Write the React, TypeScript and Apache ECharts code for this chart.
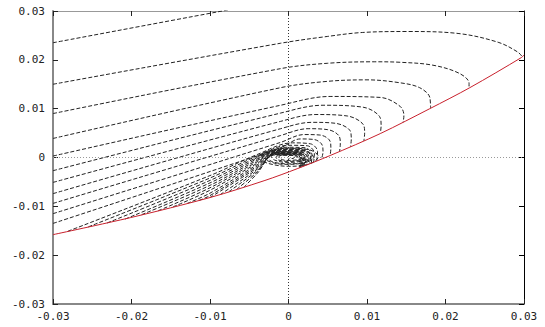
import React, { useEffect, useRef } from "react";
import * as echarts from "echarts";

// Axis ticks
const xTicks = [-0.03, -0.02, -0.01, 0, 0.01, 0.02, 0.03];
const yTicks = [-0.03, -0.02, -0.01, 0, 0.01, 0.02, 0.03];

// Red boundary curve
const redCurve = [[-0.03,-0.0158],[-0.0201,-0.0123],[-0.0100,-0.0082],[-0.0030,-0.0047],[0.0011,-0.0023],[0.0053,0.0004],[0.0117,0.0049],[0.0180,0.0100],[0.0231,0.0143],[0.0297,0.0205],[0.0300,0.0210]];

// Trajectories starting at the left edge
const c1 = [[-0.03,0.0235],[-0.0091,0.0298],[-0.004,0.0313]];
const c2 = [[-0.03,0.0150],[-0.001,0.0234],[0.005,0.0248],[0.0094,0.0256],[0.0152,0.0258],[0.0216,0.0254],[0.0267,0.0236],[0.0292,0.0216],[0.0298,0.0206]];
const c3 = [[-0.03,0.0090],[-0.001,0.0182],[0.005,0.0193],[0.011,0.0196],[0.0142,0.0195],[0.0184,0.0189],[0.0218,0.0172],[0.0230,0.0152],[0.0230,0.0142]];
const c4 = [[-0.03,0.0039],[-0.001,0.0143],[0.005,0.0156],[0.010,0.0159],[0.0142,0.0153],[0.0167,0.0143],[0.0180,0.0123],[0.0181,0.0101]];
const c5 = [[-0.03,0.0003],[-0.001,0.0107],[0.0053,0.0125],[0.0117,0.0123],[0.0142,0.0105],[0.0147,0.0086],[0.0146,0.0072]];
const c6 = [[-0.03,-0.0027],[-0.001,0.0091],[0.0044,0.0107],[0.0095,0.0103],[0.0116,0.0084],[0.0118,0.0065],[0.0117,0.0050]];
const c7 = [[-0.03,-0.0051],[-0.001,0.0074],[0.0035,0.0088],[0.0075,0.0085],[0.0095,0.0068],[0.0097,0.0050],[0.0096,0.0034]];
const c8 = [[-0.03,-0.0074],[-0.001,0.0059],[0.003,0.0072],[0.006,0.0070],[0.0078,0.0056],[0.0080,0.0038],[0.0079,0.0022]];
const c9 = [[-0.03,-0.0094],[-0.001,0.0045],[0.0025,0.0059],[0.005,0.0057],[0.0064,0.0045],[0.0066,0.0028],[0.0065,0.0012]];
const c10 = [[-0.03,-0.0115],[-0.001,0.0031],[0.002,0.0047],[0.004,0.0046],[0.0052,0.0036],[0.0054,0.0020],[0.0053,0.0004]];
const c11 = [[-0.03,-0.0135],[-0.001,0.0020],[0.0015,0.0038],[0.0032,0.0037],[0.0042,0.0028],[0.0044,0.0012],[0.0042,-0.0003]];

// Trajectories starting on the red curve
const r1 = [[-0.0281,-0.0151],[-0.01,-0.0037],[-0.004,0.0006],[0.0005,0.0030],[0.0028,0.0028],[0.0037,0.0012],[0.0036,-0.0007]];
const r2 = [[-0.0255,-0.0142],[-0.01,-0.0042],[-0.004,0.0003],[0.0000,0.0025],[0.0024,0.0024],[0.0033,0.0008],[0.0032,-0.0010]];
const r3 = [[-0.0231,-0.0134],[-0.01,-0.0047],[-0.004,0.0000],[-0.0003,0.0021],[0.0021,0.0020],[0.0030,0.0005],[0.0029,-0.0012]];
const r4 = [[-0.0208,-0.0126],[-0.01,-0.0052],[-0.004,-0.0003],[-0.0005,0.0018],[0.0019,0.0017],[0.0028,0.0003],[0.0027,-0.0013]];
const r5 = [[-0.0187,-0.0117],[-0.01,-0.0057],[-0.004,-0.0006],[-0.0007,0.0016],[0.0017,0.0015],[0.0026,0.0001],[0.0025,-0.0014]];
const r6 = [[-0.0166,-0.0109],[-0.01,-0.0062],[-0.004,-0.0009],[-0.0009,0.0014],[0.0015,0.0013],[0.0024,-0.0001],[0.0023,-0.0015]];
const r7 = [[-0.0147,-0.0101],[-0.01,-0.0067],[-0.004,-0.0012],[-0.0011,0.0012],[0.0014,0.0011],[0.0022,-0.0002],[0.0021,-0.0017]];
const r8 = [[-0.0129,-0.0094],[-0.01,-0.0073],[-0.004,-0.0015],[-0.0013,0.0011],[0.0013,0.0010],[0.0021,-0.0003],[0.0020,-0.0017]];
const r9 = [[-0.0114,-0.0088],[-0.01,-0.0078],[-0.004,-0.0018],[-0.0014,0.0010],[0.0012,0.0009],[0.0020,-0.0004],[0.0019,-0.0018]];
const r10 = [[-0.0100,-0.0082],[-0.004,-0.0021],[-0.0015,0.0009],[0.0011,0.0008],[0.0019,-0.0005],[0.0018,-0.0018]];
const r11 = [[-0.0087,-0.0076],[-0.004,-0.0024],[-0.0016,0.0008],[0.0010,0.0007],[0.0018,-0.0006],[0.0017,-0.0019]];
const r12 = [[-0.0076,-0.0070],[-0.004,-0.0027],[-0.0017,0.0007],[0.0009,0.0006],[0.0017,-0.0006],[0.0016,-0.0020]];
const r13 = [[-0.0066,-0.0065],[-0.004,-0.0030],[-0.0018,0.0006],[0.0008,0.0005],[0.0016,-0.0007],[0.0015,-0.0020]];
const r14 = [[-0.0057,-0.0061],[-0.004,-0.0033],[-0.0019,0.0005],[0.0007,0.0004],[0.0015,-0.0007],[0.0014,-0.0021]];

// Dense spiral core around the origin
const core1 = [[-0.0035,0.0002],[-0.002,0.0013],[0.0005,0.0017],[0.0025,0.0012],[0.0032,0.0000],[0.002,-0.0011],[-0.0005,-0.0014],[-0.0025,-0.0008],[-0.0032,0.0002],[-0.002,0.0010],[0.0004,0.0013],[0.002,0.0009],[0.0025,0.0000],[0.0015,-0.0008],[-0.0004,-0.0010],[-0.0018,-0.0005],[-0.0022,0.0002],[-0.0013,0.0007],[0.0003,0.0009],[0.0015,0.0006],[0.0018,0.0000],[0.001,-0.0005],[-0.0003,-0.0006],[-0.0011,-0.0002],[-0.0012,0.0002],[-0.0006,0.0005],[0.0002,0.0005],[0.0008,0.0002],[0.0006,-0.0002],[0.0000,-0.0002]];
const core2 = [[-0.0045,-0.0006],[-0.0030,0.0011],[0.0000,0.0019],[0.0028,0.0015],[0.0038,0.0002],[0.0027,-0.0013],[0.0000,-0.0018],[-0.0026,-0.0012],[-0.0038,-0.0001],[-0.0026,0.0011],[0.0000,0.0015],[0.0023,0.0012],[0.0029,0.0002],[0.0020,-0.0010],[-0.0001,-0.0013],[-0.0020,-0.0009],[-0.0027,0.0000],[-0.0018,0.0008],[0.0000,0.0011],[0.0016,0.0008],[0.0021,0.0001],[0.0013,-0.0006],[-0.0001,-0.0008],[-0.0013,-0.0005],[-0.0016,0.0001],[-0.0009,0.0005],[0.0001,0.0006]];

const trajectories = [c1, c2, c3, c4, c5, c6, c7, c8, c9, c10, c11, r1, r2, r3, r4, r5, r6, r7, r8, r9, r10, r11, r12, r13, r14, core1, core2];

const fmt = (v: number) => {
  const r = Math.round(v * 100) / 100;
  return r === 0 ? "0" : r.toFixed(2);
};

const labelStyle = {
  fontFamily: "DejaVu Sans Mono",
  fontSize: 11,
  color: "#222",
};

export default function App() {
  const ref = useRef<HTMLDivElement>(null);
  useEffect(() => {
    if (!ref.current) return;
    const chart = echarts.init(ref.current, null, { renderer: "svg" });
    const xMin = xTicks[0], xMax = xTicks[xTicks.length - 1];
    const yMin = yTicks[0], yMax = yTicks[yTicks.length - 1];
    const series: any[] = trajectories.map((pts, i) => ({
      type: "line",
      name: "traj" + i,
      data: pts,
      showSymbol: false,
      symbol: "none",
      smooth: 0.35,
      clip: true,
      lineStyle: { color: "#222", width: 1, type: [4, 2] },
      z: 2,
    }));
    series.push({
      type: "line",
      name: "boundary",
      data: redCurve,
      showSymbol: false,
      symbol: "none",
      smooth: 0.3,
      lineStyle: { color: "#c8202c", width: 1 },
      z: 5,
      markLine: {
        silent: true,
        symbol: "none",
        label: { show: false },
        animation: false,
        data: [
          { xAxis: 0, lineStyle: { color: "#333", type: [1, 2], width: 1 } },
          { yAxis: 0, lineStyle: { color: "#999", type: [1, 2], width: 1 } },
        ],
      },
    });
    chart.setOption({
      animation: false,
      backgroundColor: "#fff",
      grid: { left: 53, right: 21, top: 11, bottom: 23 },
      xAxis: [
        {
          type: "value", min: xMin, max: xMax, interval: 0.01, position: "bottom",
          axisLine: { show: true, onZero: false, lineStyle: { color: "#888", width: 2 } },
          axisTick: { show: true, inside: true, length: 5, lineStyle: { color: "#222" } },
          axisLabel: { ...labelStyle, margin: 7, formatter: fmt },
          splitLine: { show: false },
        },
        {
          type: "value", min: xMin, max: xMax, interval: 0.01, position: "top",
          axisLine: { show: true, onZero: false, lineStyle: { color: "#999", width: 1 } },
          axisTick: { show: true, inside: true, length: 5, lineStyle: { color: "#222" } },
          axisLabel: { show: false },
          splitLine: { show: false },
        },
      ],
      yAxis: [
        {
          type: "value", min: yMin, max: yMax, interval: 0.01, position: "left",
          axisLine: { show: true, onZero: false, lineStyle: { color: "#888", width: 2 } },
          axisTick: { show: true, inside: true, length: 5, lineStyle: { color: "#222" } },
          axisLabel: { ...labelStyle, margin: 8, formatter: fmt },
          splitLine: { show: false },
        },
        {
          type: "value", min: yMin, max: yMax, interval: 0.01, position: "right",
          axisLine: { show: true, onZero: false, lineStyle: { color: "#000", width: 1 } },
          axisTick: { show: true, inside: true, length: 5, lineStyle: { color: "#000" } },
          axisLabel: { show: false },
          splitLine: { show: false },
        },
      ],
      series,
    });
    return () => chart.dispose();
  }, []);
  return (
    <div
      ref={ref}
      style={{ position: "fixed", left: 0, top: 0, width: 545, height: 327, background: "#fff" }}
    />
  );
}
